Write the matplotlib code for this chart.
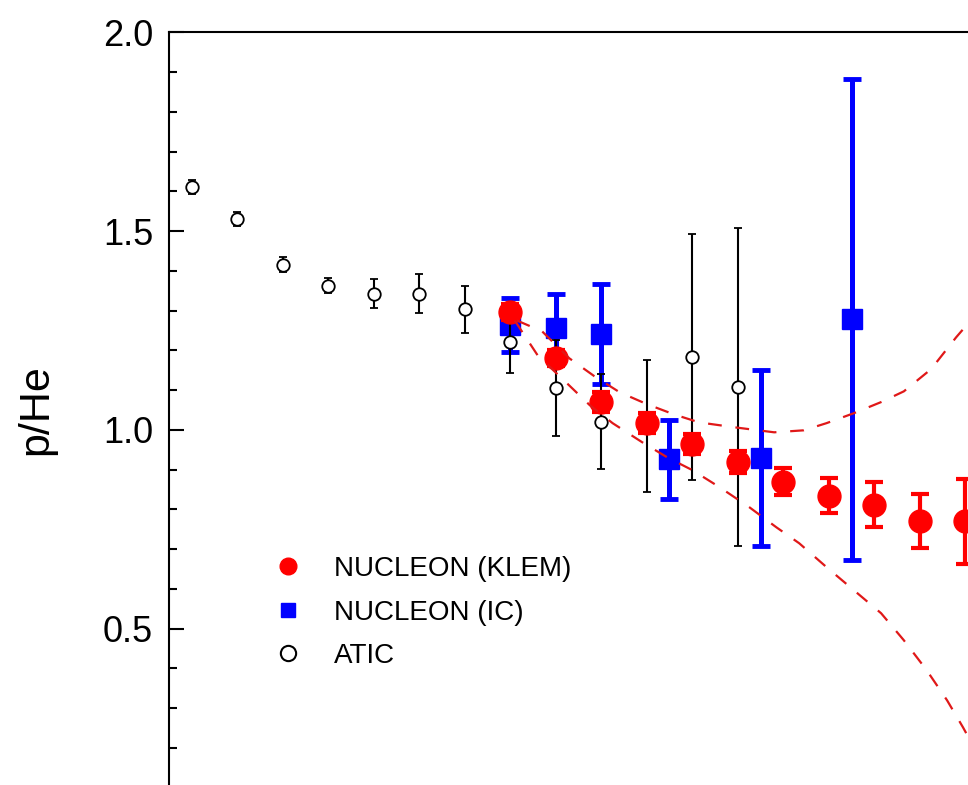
import matplotlib
matplotlib.use("Agg")
import matplotlib.pyplot as plt
from matplotlib.lines import Line2D

plt.rcParams['font.family'] = ['Liberation Sans', 'DejaVu Sans']

# ---- data: log10(E) bin centres, p/He ratio, errors ----
atic_lge = [1.6, 1.8, 2.0, 2.2, 2.4, 2.6, 2.8, 3.0, 3.2, 3.4, 3.6, 3.8, 4.0]
atic_ratio = [1.611, 1.530, 1.415, 1.363, 1.343, 1.343, 1.303, 1.222, 1.105, 1.021, 1.010, 1.183, 1.107]
atic_err = [0.017, 0.018, 0.019, 0.019, 0.036, 0.050, 0.059, 0.078, 0.120, 0.119, 0.165, 0.310, 0.400]

klem_lge = [3.0, 3.2, 3.4, 3.6, 3.8, 4.0, 4.2, 4.4, 4.6, 4.8, 5.0]
klem_ratio = [1.296, 1.180, 1.071, 1.018, 0.964, 0.920, 0.870, 0.835, 0.812, 0.770, 0.770]
klem_err = [0.020, 0.020, 0.025, 0.025, 0.025, 0.028, 0.034, 0.043, 0.056, 0.068, 0.107]

ic_lge = [3.0, 3.2, 3.4, 3.7, 4.1, 4.5]
ic_ratio = [1.265, 1.257, 1.241, 0.926, 0.929, 1.278]
ic_err = [0.068, 0.086, 0.125, 0.100, 0.222, 0.605]

# fit band (upper / lower boundary)
band_hi_lge = [3.03, 3.14, 3.26, 3.37, 3.48, 3.60, 3.72, 3.83, 3.98, 4.16, 4.29, 4.39,
               4.51, 4.63, 4.73, 4.85, 4.96, 5.07]
band_hi = [1.275, 1.248, 1.180, 1.135, 1.095, 1.065, 1.039, 1.019, 1.007, 0.994, 0.999, 1.017,
           1.042, 1.070, 1.097, 1.153, 1.233, 1.306]
band_lo_lge = [3.02, 3.12, 3.25, 3.35, 3.45, 3.58, 3.69, 3.80, 3.92, 4.05, 4.17, 4.27,
               4.39, 4.51, 4.63, 4.73, 4.83, 4.92, 4.99, 5.04]
band_lo = [1.275, 1.188, 1.117, 1.062, 1.017, 0.969, 0.931, 0.899, 0.856, 0.806, 0.755, 0.715,
           0.655, 0.597, 0.539, 0.471, 0.396, 0.320, 0.252, 0.200]

W, H = 968, 785
fig = plt.figure(figsize=(W / 100, H / 100), dpi=100)
ax = fig.add_axes([168.5 / W, 0.0, 1 - 168.5 / W, 1 - 32.3 / H])

red = '#ff0000'
blue = '#0000ff'

ax.errorbar(ic_lge, ic_ratio, yerr=ic_err, fmt='s', color=blue, ms=14,
            elinewidth=3.6, capsize=6.5, capthick=3.5, zorder=2)
ax.errorbar(atic_lge, atic_ratio, yerr=atic_err, fmt='o', color='black', mfc='white',
            mec='black', mew=1.3, ms=9, elinewidth=1.5, capsize=3.2, capthick=1.6, zorder=3)
ax.errorbar(klem_lge, klem_ratio, yerr=klem_err, fmt='o', color=red, ms=16.5,
            elinewidth=3.0, capsize=6.8, capthick=3.0, zorder=4)

ax.plot(band_hi_lge, band_hi, color='#e01818', lw=1.6, dashes=(6.2, 6.2), zorder=5)
ax.plot(band_lo_lge, band_lo, color='#e01818', lw=1.6, dashes=(6.2, 6.2), zorder=5)

ax.set_xlim(1.498, 5.012)
ax.set_ylim(0.107, 2.0)

for side in ['bottom', 'right']:
    ax.spines[side].set_visible(False)
for side in ['top', 'left']:
    ax.spines[side].set_linewidth(1.5)

ax.set_xticks([])
ax.set_yticks([0.5, 1.0, 1.5, 2.0])
ax.set_yticklabels(['0.5', '1.0', '1.5', '2.0'])
ax.set_yticks([0.2, 0.3, 0.4, 0.6, 0.7, 0.8, 0.9, 1.1, 1.2, 1.3, 1.4, 1.6, 1.7, 1.8, 1.9],
              minor=True)
ax.tick_params(axis='y', which='major', direction='in', length=10.8, width=1.5,
               labelsize=26, pad=11)
ax.tick_params(axis='y', which='minor', direction='in', length=5.8, width=1.5)

ax.set_ylabel('p/He', fontsize=31)
ax.yaxis.set_label_coords(-0.141, 0.499)

handles = [
    Line2D([], [], ls='none', marker='o', color=red, ms=12),
    Line2D([], [], ls='none', marker='s', color=blue, ms=10),
    Line2D([], [], ls='none', marker='o', mfc='white', mec='black', mew=1.5, ms=11),
]
labels = ['NUCLEON (KLEM)', 'NUCLEON (IC)', 'ATIC']
ax.legend(handles, labels, loc='upper left', bbox_to_anchor=(274 / W, 1 - 556 / H),
          bbox_transform=fig.transFigure, frameon=False, fontsize=20, borderpad=0,
          handlelength=1.0, handletextpad=1.15, labelspacing=0.63, borderaxespad=0)

fig.savefig('out.png', dpi=100)
